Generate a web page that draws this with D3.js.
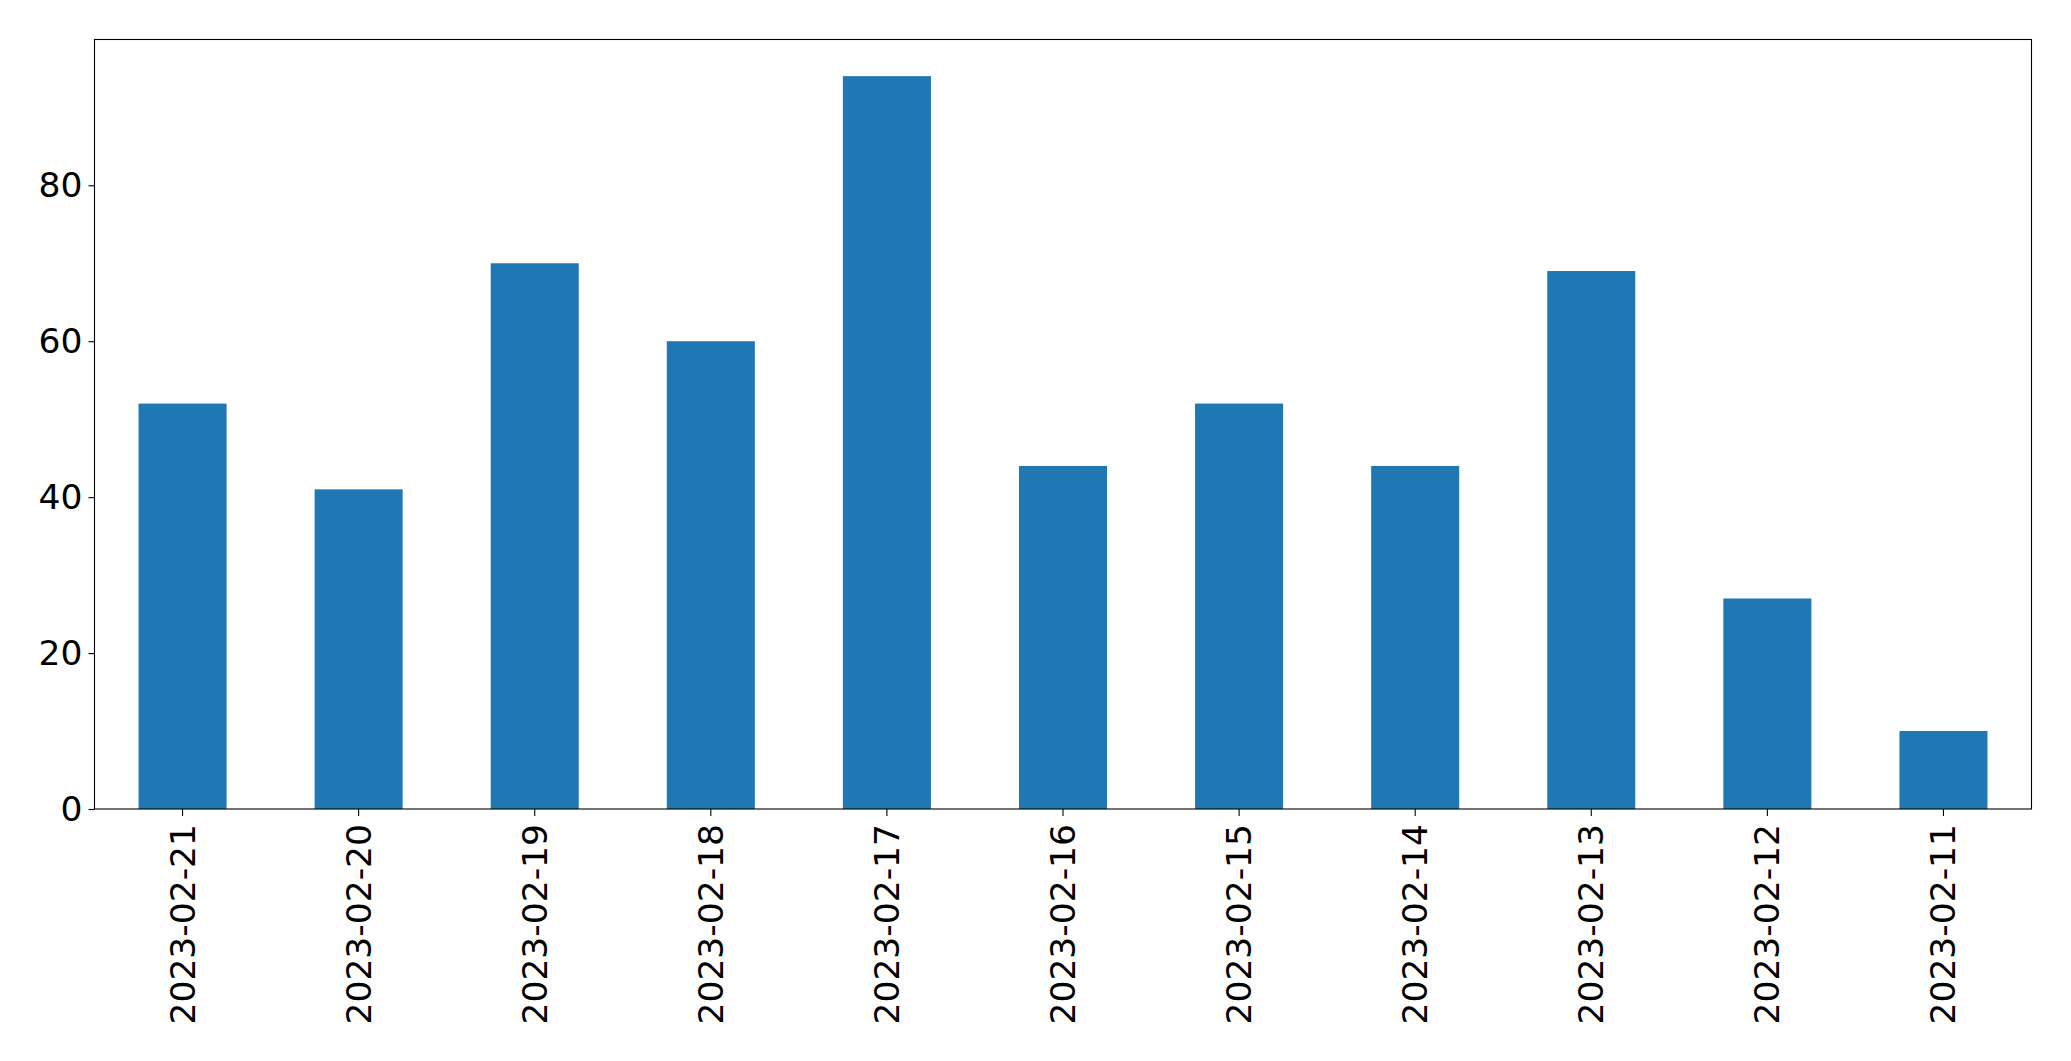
<!DOCTYPE html>
<html>
<head>
<meta charset="utf-8">
<script src="https://cdn.jsdelivr.net/npm/d3@7"></script>
<style>
  html, body { margin: 0; padding: 0; background: #fff; }
  svg { display: block; }
  text { font-family: "DejaVu Sans", sans-serif; fill: #000; }
</style>
</head>
<body>
<svg id="chart" width="2071" height="1061"></svg>
<script>
const categories = ["2023-02-21","2023-02-20","2023-02-19","2023-02-18","2023-02-17","2023-02-16","2023-02-15","2023-02-14","2023-02-13","2023-02-12","2023-02-11"];
const values = [52, 41, 70, 60, 94, 44, 52, 44, 69, 27, 10];
const yTicks = [0, 20, 40, 60, 80];

const W = 2071, H = 1061;
const margin = { left: 94.5, right: W - 2031.5, top: 39.5, bottom: H - 809 };
const svg = d3.select("#chart");

const x = d3.scaleBand()
  .domain(categories)
  .range([margin.left, W - margin.right])
  .paddingInner(0.5)
  .paddingOuter(0.25);

const y = d3.scaleLinear()
  .domain([0, d3.max(values) * 1.05])
  .range([H - margin.bottom, margin.top]);

const fontSize = 34.5;

// bars
svg.append("g")
  .selectAll("rect")
  .data(values)
  .join("rect")
  .attr("x", (d, i) => x(categories[i]))
  .attr("width", x.bandwidth())
  .attr("y", d => y(d))
  .attr("height", d => y(0) - y(d))
  .attr("fill", "#1f77b4");

// y axis
const yAxis = svg.append("g")
  .attr("transform", `translate(${margin.left},0)`)
  .call(d3.axisLeft(y).tickValues(yTicks).tickSize(6).tickPadding(6).tickFormat(d3.format("d")));
yAxis.select(".domain").remove();
yAxis.selectAll(".tick line").attr("stroke", "#000").attr("stroke-width", 1.1);
yAxis.selectAll(".tick text")
  .attr("font-size", fontSize)
  .attr("font-family", "DejaVu Sans, sans-serif")
  .attr("fill", "#000");

// x axis
const xAxis = svg.append("g")
  .attr("transform", `translate(0,${H - margin.bottom})`)
  .call(d3.axisBottom(x).tickSize(7).tickPadding(10));
xAxis.select(".domain").remove();
xAxis.selectAll(".tick line").attr("stroke", "#000").attr("stroke-width", 1.1);
xAxis.selectAll(".tick text")
  .attr("font-size", fontSize)
  .attr("font-family", "DejaVu Sans, sans-serif")
  .attr("fill", "#000")
  .attr("text-anchor", "end")
  .attr("dy", null)
  .attr("dominant-baseline", "central")
  .attr("transform", "translate(0,15) rotate(-90)")
  .attr("x", 0)
  .attr("y", 0);

// frame
svg.append("rect")
  .attr("x", margin.left)
  .attr("y", margin.top)
  .attr("width", W - margin.left - margin.right)
  .attr("height", H - margin.top - margin.bottom)
  .attr("fill", "none")
  .attr("stroke", "#000")
  .attr("stroke-width", 1.1);
</script>
</body>
</html>
